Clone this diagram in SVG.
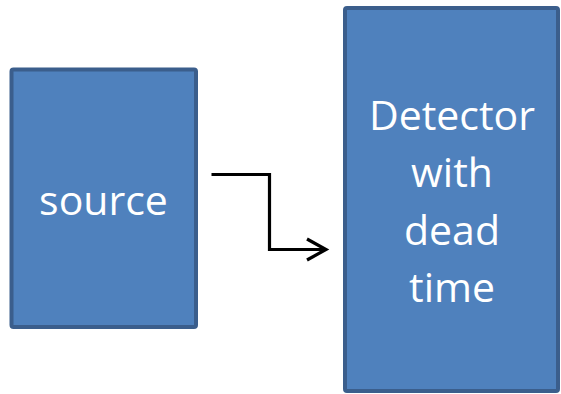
<svg xmlns="http://www.w3.org/2000/svg" width="561" height="394" viewBox="0 0 561 394">
<style>
.box{fill:#4F81BD;stroke:#3B5E8C;stroke-width:4;}
.lbl{font-family:"Open Sans","Liberation Sans",sans-serif;font-size:41px;fill:#FFFFFF;text-anchor:middle;}
.conn{fill:none;stroke:#000000;stroke-width:3.2;}
</style>
<rect x="0" y="0" width="561" height="394" fill="#FFFFFF"/>
<g id="source">
<rect class="box" x="11.5" y="69.5" width="184.5" height="257.5" rx="2"/>
<text class="lbl" x="103.5" y="215">source</text>
</g>
<g id="detector">
<rect class="box" x="345" y="8" width="213" height="383" rx="2"/>
<text class="lbl" x="452" y="130">Detector</text>
<text class="lbl" x="452" y="187">with</text>
<text class="lbl" x="452" y="245">dead</text>
<text class="lbl" x="452" y="302">time</text>
</g>
<g id="connectors">
<polyline class="conn" points="211.5,174.5 269.5,174.5 269.5,249.5 325,249.5"/>
<polyline class="conn" points="307,239 326,249.5 307,260" stroke-linejoin="miter"/>
</g>
</svg>
